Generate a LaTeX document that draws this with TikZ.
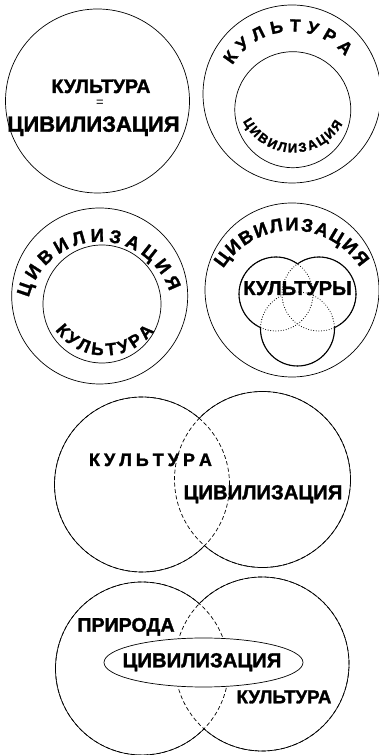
\documentclass[tikz,border=0pt]{standalone}
\usepackage{fontspec}
\setmainfont{Liberation Sans}[BoldFeatures={FakeBold=1.5}]
\usetikzlibrary{decorations.text}
\newcommand\fsz[1]{\fontsize{#1}{#1}\selectfont\bfseries}
\begin{document}
\begin{tikzpicture}[x=1pt,y=1pt,line width=0.7pt,
  lbl/.style={inner sep=0pt,anchor=base},
  arctext/.style={decorate,decoration={text along path,text align={fit to path},text={#1}}},
  dashedline/.style={dash pattern=on 4pt off 2.5pt},
  dotline/.style={line width=1.1pt,line cap=round,dash pattern=on 0pt off 2.6pt},
  solidthick/.style={line width=1.1pt}]
\useasboundingbox (0,0) rectangle (379,755);

% ---------- panel 1
\draw (97.5,654) circle[radius=92];
\node[lbl,font=\fsz{19.5}] (p1k) at (101,662) {КУЛЬТУРА};
\node[inner sep=0pt,font=\fontsize{13}{13}\selectfont] (p1eq) at (100,652) {=};
\node[lbl,font=\fsz{22}] (p1c) at (93.5,623.3) {ЦИВИЛИЗАЦИЯ};

% ---------- panel 2
\draw (292,661) circle[radius=89];
\draw (292.8,645.3) circle[radius=58];
\path[arctext={|\fsz{17.5}|КУЛЬТУРА}] (292,654) ++(149:69.5) arc[start angle=149,end angle=40,radius=69.5];
\path[arctext={|\fsz{13}|ЦИВИЛИЗАЦИЯ}] (293.5,659) ++(206.6:56.5) arc[start angle=206.6,end angle=330.4,radius=56.5];

% ---------- panel 3
\draw (99.7,459) circle[radius=88];
\draw (102,451) circle[radius=59];
\path[arctext={|\fsz{18.5}|ЦИВИЛИЗАЦИЯ}] (100,440) ++(166.3:73.3) arc[start angle=166.3,end angle=18.7,radius=73.3];
\path[arctext={|\fsz{17.5}|КУЛЬТУРА}] (105,461) ++(216:61.5) arc[start angle=216,end angle=323,radius=61.5];

% ---------- panel 4
\draw (292,465) circle[radius=87];
\path[arctext={|\fsz{18.5}|ЦИВИЛИЗАЦИЯ}] (292,443.5) ++(148:81) arc[start angle=148,end angle=33,radius=81];
\coordinate (tl) at (276,461);
\coordinate (tr) at (319,461);
\coordinate (tb) at (297.5,426);
\foreach \c in {tl,tr,tb} \draw[dotline] (\c) circle[radius=37];
\begin{scope}
  \clip (297.5,450.1)--(297.5,700)--(100,700)--(100,328.8)--cycle;
  \draw[solidthick] (tl) circle[radius=37];
\end{scope}
\begin{scope}
  \clip (297.5,450.1)--(297.5,700)--(495,700)--(495,328.8)--cycle;
  \draw[solidthick] (tr) circle[radius=37];
\end{scope}
\begin{scope}
  \clip (297.5,450.1)--(100,328.8)--(100,300)--(495,300)--(495,328.8)--cycle;
  \draw[solidthick] (tb) circle[radius=37];
\end{scope}
\node[lbl,font=\fsz{20}] (p4k) at (297.5,460) {КУЛЬТУРЫ};

% ---------- panel 5
\draw[dashedline] (142,270.5) circle[radius=87.5];
\draw[dashedline] (262.5,275.5) circle[radius=88];
\begin{scope}
  \clip (209.1,100)--(194.5,450)--(0,450)--(0,100)--cycle;
  \draw (142,270.5) circle[radius=87.5];
\end{scope}
\begin{scope}
  \clip (209.1,100)--(194.5,450)--(400,450)--(400,100)--cycle;
  \draw (262.5,275.5) circle[radius=88];
\end{scope}
\node[lbl,font=\fsz{18}] (p5k) at (150.5,289) {К\kern4pt У\kern4pt Л\kern4pt Ь\kern4pt Т\kern4pt У\kern4pt Р\kern4pt А};
\node[lbl,font=\fsz{20.3}] (p5c) at (263,255.7) {ЦИВИЛИЗАЦИЯ};

% ---------- panel 6
\draw[dashedline] (142,86.5) circle[radius=86.5];
\draw[dashedline] (262,91) circle[radius=87];
\begin{scope}
  \clip (205.34,-10)--(197.47,200)--(0,200)--(0,-10)--cycle;
  \draw (142,86.5) circle[radius=86.5];
\end{scope}
\begin{scope}
  \clip (205.34,-10)--(197.47,200)--(400,200)--(400,-10)--cycle;
  \draw (262,91) circle[radius=87];
\end{scope}
\draw[fill=white] (203.5,92.5) ellipse[x radius=99.5,y radius=24.5];
\node[lbl,font=\fsz{19.6}] (p6p) at (126,123.3) {ПРИРОДА};
\node[lbl,font=\fsz{20.3}] (p6c) at (202,87.7) {ЦИВИЛИЗАЦИЯ};
\node[lbl,font=\fsz{18.7}] (p6k) at (284,51.7) {КУЛЬТУРА};
\end{tikzpicture}
\end{document}
